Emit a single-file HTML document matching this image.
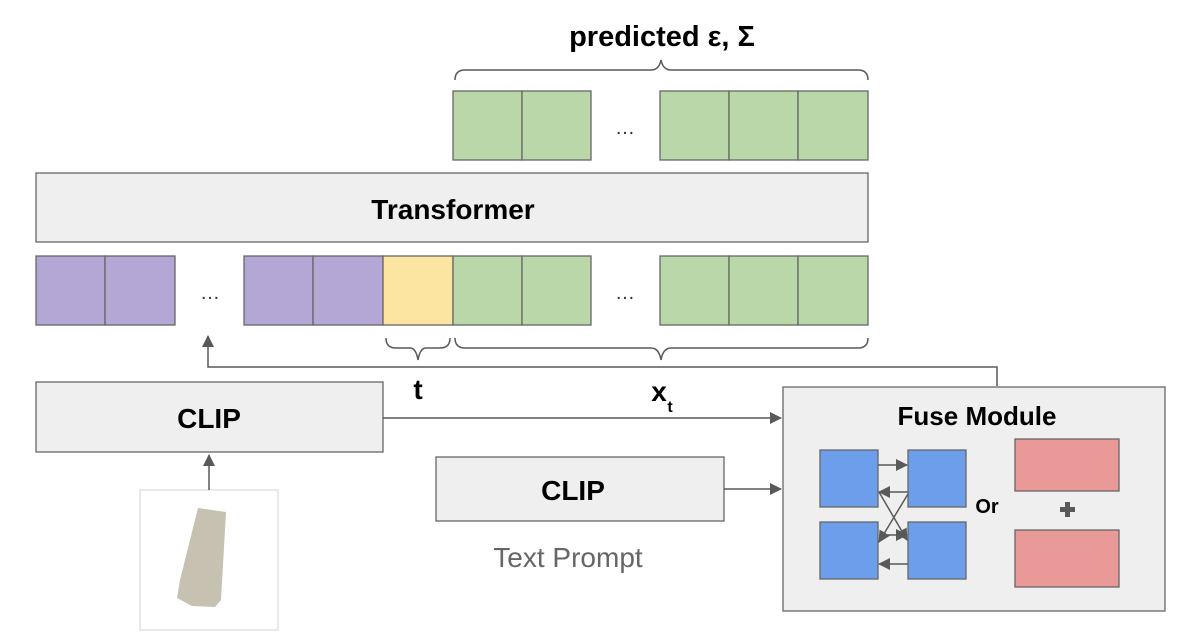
<!DOCTYPE html>
<html><head><meta charset="utf-8"><style>
html,body{margin:0;padding:0;background:#fff;}
svg{display:block;font-family:"Liberation Sans",Arial,sans-serif;}
</style></head><body>
<svg width="1197" height="639" viewBox="0 0 1197 639" xmlns="http://www.w3.org/2000/svg">
<defs>
<marker id="ah" markerWidth="12" markerHeight="12" refX="11" refY="6" orient="auto" markerUnits="userSpaceOnUse">
<path d="M0,0 L12,6 L0,12 z" fill="#595959"/></marker>
<marker id="as" markerWidth="12" markerHeight="12" refX="11" refY="6" orient="auto" markerUnits="userSpaceOnUse">
<path d="M0,0 L12,6 L0,12 z" fill="#595959"/></marker>
</defs>
<g stroke="#666" stroke-width="1.3">
<g fill="#b9d7a8">
<rect x="453" y="91" width="69" height="69"/><rect x="522" y="91" width="69" height="69"/>
<rect x="660" y="91" width="69" height="69"/><rect x="729" y="91" width="69" height="69"/><rect x="798" y="91" width="70" height="69"/>
</g>
<rect x="36" y="173" width="832" height="69" fill="#efefef"/>
<g fill="#b4a7d6">
<rect x="36" y="256" width="69" height="69"/><rect x="105" y="256" width="70" height="69"/>
<rect x="244" y="256" width="69" height="69"/><rect x="313" y="256" width="70" height="69"/>
</g>
<rect x="383" y="256" width="70" height="69" fill="#fce5a0"/>
<g fill="#b9d7a8">
<rect x="453" y="256" width="69" height="69"/><rect x="522" y="256" width="69" height="69"/>
<rect x="660" y="256" width="69" height="69"/><rect x="729" y="256" width="69" height="69"/><rect x="798" y="256" width="70" height="69"/>
</g>
<rect x="36" y="382" width="347" height="70" fill="#efefef"/>
<rect x="436" y="457" width="288" height="64" fill="#efefef"/>
<rect x="783" y="387" width="382" height="224" fill="#efefef"/>
<rect x="820" y="450" width="58" height="57" fill="#6d9eeb"/>
<rect x="908" y="450" width="58" height="57" fill="#6d9eeb"/>
<rect x="820" y="522" width="58" height="57" fill="#6d9eeb"/>
<rect x="908" y="522" width="58" height="57" fill="#6d9eeb"/>
<rect x="1015" y="439" width="104" height="52" fill="#ea9999"/>
<rect x="1015" y="530" width="104" height="57" fill="#ea9999"/>
</g>
<rect x="140" y="490" width="138" height="140" fill="#fff" stroke="#ddd" stroke-width="1.3"/>
<path d="M198,508 L226,512 L221,600 L215,607 L192,606 L177,598 L180,580 Z" fill="#c7c1b2"/>
<g fill="none" stroke="#595959" stroke-width="1.5">
<path d="M455,80 Q455,70 465,70 L651,70 Q659,70 661,60 Q663,70 671,70 L858,70 Q868,70 868,80"/>
<path d="M386,338 Q386,348 396,348 L410,348 Q416,348 418,360 Q420,348 426,348 L440,348 Q450,348 450,338"/>
<path d="M455,338 Q455,348 465,348 L651,348 Q659,348 661,360 Q663,348 671,348 L858,348 Q868,348 868,338"/>
</g>
<g fill="none" stroke="#595959" stroke-width="1.5">
<path d="M997,386 L997,367 L208,367 L208,336" marker-end="url(#ah)"/>
<path d="M383,418 L781,418" marker-end="url(#ah)"/>
<path d="M209,490 L209,455" marker-end="url(#ah)"/>
<path d="M724,489 L781,489" marker-end="url(#ah)"/>
<path d="M878,465 L907,465" marker-end="url(#as)"/>
<path d="M908,564 L879,564" marker-end="url(#as)"/>
<path d="M908,492 L879,492" marker-end="url(#as)"/>
<path d="M879,535 L907,535" marker-end="url(#as)"/>
<path d="M908,494 L879,542" marker-end="url(#as)"/>
<path d="M879,492 L907,540" marker-end="url(#as)"/>
</g>
<rect x="1060" y="507" width="15" height="5" fill="#595959"/>
<rect x="1065" y="502" width="5" height="15" fill="#595959"/>
<g font-weight="bold" fill="#000" text-anchor="middle">
<text x="662" y="46" font-size="29">predicted ε, Σ</text>
<text x="453" y="219" font-size="28">Transformer</text>
<text x="209" y="428" font-size="28">CLIP</text>
<text x="573" y="500" font-size="28">CLIP</text>
<text x="977" y="425" font-size="26">Fuse Module</text>
<text x="987" y="513" font-size="20">Or</text>
<text x="418" y="399" font-size="28">t</text>
<text x="659" y="401" font-size="28">x</text>
<text x="670" y="412" font-size="16">t</text>
</g>
<g fill="#333" font-size="20" text-anchor="middle">
<text x="625" y="134">…</text><text x="210" y="299">…</text><text x="625" y="299">…</text>
</g>
<text x="568" y="567" font-size="28" fill="#666" text-anchor="middle">Text Prompt</text>
</svg>
</body></html>
